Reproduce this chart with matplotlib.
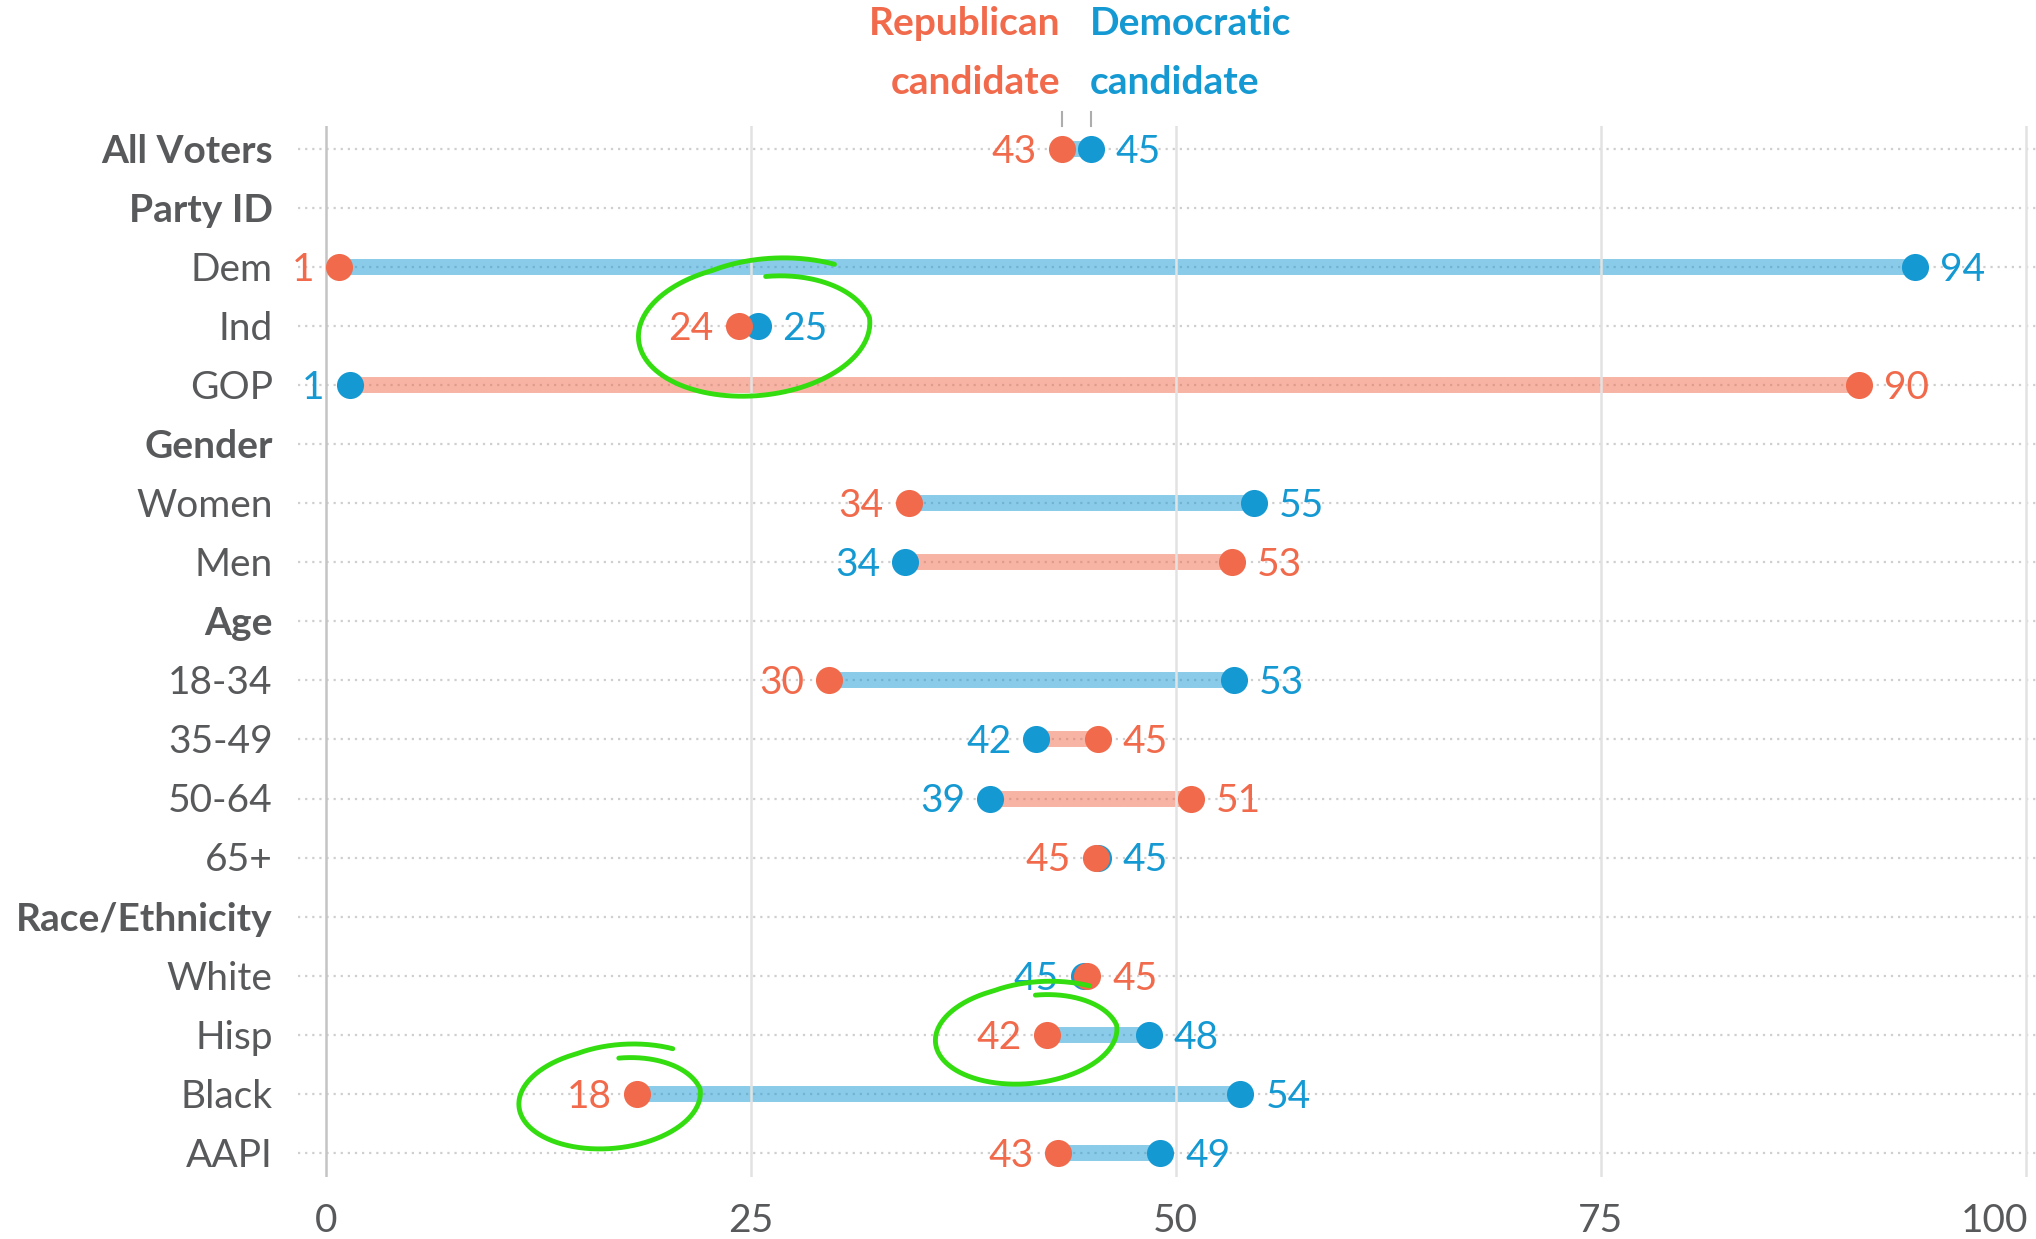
"""
Dumbbell chart: Republican vs Democratic candidate support by voter group.
"""

import matplotlib.pyplot as plt
import numpy as np

plt.rcParams["font.family"] = ["Lato", "DejaVu Sans"]

# Colours
RED = "#F06A4B"
BLUE = "#1499D2"
TEXT_GRAY = "#58595B"
GRID_GRAY = "#E2E2E2"
ZERO_GRAY = "#C4C4C4"
DOT_GRAY = "#CFCFCF"
GREEN = "#33DD0F"

# Data (None = section heading row),
# labels show them rounded
groups = [
    "All Voters", "Party ID", "Dem", "Ind", "GOP", "Gender", "Women", "Men",
    "Age", "18-34", "35-49", "50-64", "65+", "Race/Ethnicity", "White",
    "Hisp", "Black", "AAPI",
]
headings = ["All Voters", "Party ID", "Gender", "Age", "Race/Ethnicity"]
rep_pct = [43.3, None, 0.8, 24.3, 90.2, None, 34.3, 53.3, None, 29.6, 45.4, 50.9, 45.3, None, 44.8, 42.4, 18.3, 43.1]
dem_pct = [45.0, None, 93.5, 25.4, 1.4, None, 54.6, 34.1, None, 53.4, 41.8, 39.1, 45.4, None, 44.6, 48.4, 53.8, 49.1]
x_ticks = [0, 25, 50, 75, 100]
# rows that got a hand-drawn green circle in the original
circled = ["Ind", "Hisp", "Black"]

FONTSIZE = 28
LABEL_DX = 18  # points from dot centre to value label
BASE_DY = -10  # points: baseline shift so digits sit centred on the row

W, H = 2036, 1239
fig = plt.figure(figsize=(W / 100, H / 100), dpi=100)
ax = fig.add_axes([298 / W, 1 - 1177 / H, (W - 298) / W, (1177 - 126) / H])
ax.set_xlim(-1.63, 100.6)
ax.set_ylim(17.41, -0.39)
ax.axis("off")

rows = np.arange(len(groups))

# dotted row guides
ax.hlines(rows, -1.63, 100.6, colors=DOT_GRAY, linestyles=(0, (1, 2.2)), lw=1.6, zorder=0)

# vertical grid + tick labels
for t in x_ticks:
    ax.axvline(t, color=ZERO_GRAY if t == 0 else GRID_GRAY, lw=1.8, zorder=2)
    last = t == x_ticks[-1]
    ax.annotate(str(t), (t, 17.41), xytext=(2 if last else 0, -39.5), textcoords="offset points",
                ha="right" if last else "center", va="baseline", fontsize=FONTSIZE,
                color=TEXT_GRAY, annotation_clip=False)

# group labels
for i, g in enumerate(groups):
    ax.annotate(g, (-3.12, i), xytext=(0, BASE_DY), textcoords="offset points",
                ha="right", va="baseline", fontsize=FONTSIZE, color=TEXT_GRAY,
                weight="bold" if g in headings else "normal", annotation_clip=False)

# bars, dots and value labels
for i, (r, d) in enumerate(zip(rep_pct, dem_pct)):
    if r is None:
        continue
    win = BLUE if d > r else RED
    ax.plot([r, d], [i, i], color=win, alpha=0.5, lw=11.5, solid_capstyle="butt", zorder=1)
    ax.plot(d, i, "o", color=BLUE, ms=19.5, mec="none", zorder=3)
    ax.plot(r, i, "o", color=RED, ms=19.5, mec="none", zorder=4)
    if r < d:
        left, right = (r, RED), (d, BLUE)
    else:
        left, right = (d, BLUE), (r, RED)
    ax.annotate(f"{left[0]:.0f}", (left[0], i), xytext=(-LABEL_DX, BASE_DY),
                textcoords="offset points", ha="right", va="baseline",
                fontsize=FONTSIZE, color=left[1], annotation_clip=False)
    ax.annotate(f"{right[0]:.0f}", (right[0], i), xytext=(LABEL_DX, BASE_DY),
                textcoords="offset points", ha="left", va="baseline",
                fontsize=FONTSIZE, color=right[1], annotation_clip=False)

# header legend above the "All Voters" row
r0, d0 = rep_pct[0], dem_pct[0]
for x in (r0, d0):
    ax.plot([x, x], [-0.63, -0.39], color="#ADADAD", lw=1.5, clip_on=False)
for j, word in enumerate(["Republican", "candidate"]):
    ax.text(r0 - 0.1, -1.93 + j * 0.99, word, ha="right", va="baseline",
            fontsize=FONTSIZE, weight="bold", color=RED)
for j, word in enumerate(["Democratic", "candidate"]):
    ax.text(d0 - 0.05, -1.93 + j * 0.99, word, ha="left", va="baseline",
            fontsize=FONTSIZE, weight="bold", color=BLUE)

# hand-drawn green circles
px_x = ax.transData.transform((1, 0))[0] - ax.transData.transform((0, 0))[0]
px_y = abs(ax.transData.transform((0, 1))[1] - ax.transData.transform((0, 0))[1])
circle_shapes = {"Ind": (25.2, 3.06, 116, 66), "Hisp": (41.2, 15.0, 91, 49), "Black": (16.7, 16.08, 91, 50)}
for name in circled:
    cx, cy, a, b = circle_shapes[name]
    p = np.linspace(0, 1, 400)
    theta = np.radians(80 - 390 * p)
    s = 0.8 + 0.2 * np.clip(p / 0.2, 0, 1) + 0.15 * np.clip((p - 0.85) / 0.15, 0, 1)
    ex = a * s * np.cos(theta)
    ey = -b * s * np.sin(theta)  # screen y grows downward
    tilt = np.radians(-5)
    rx = ex * np.cos(tilt) - ey * np.sin(tilt)
    ry = ex * np.sin(tilt) + ey * np.cos(tilt)
    ax.plot(cx + rx / px_x, cy + ry / px_y, color=GREEN, lw=3.5, solid_capstyle="round",
            zorder=5, clip_on=False)

fig.savefig("out.png", dpi=100)
